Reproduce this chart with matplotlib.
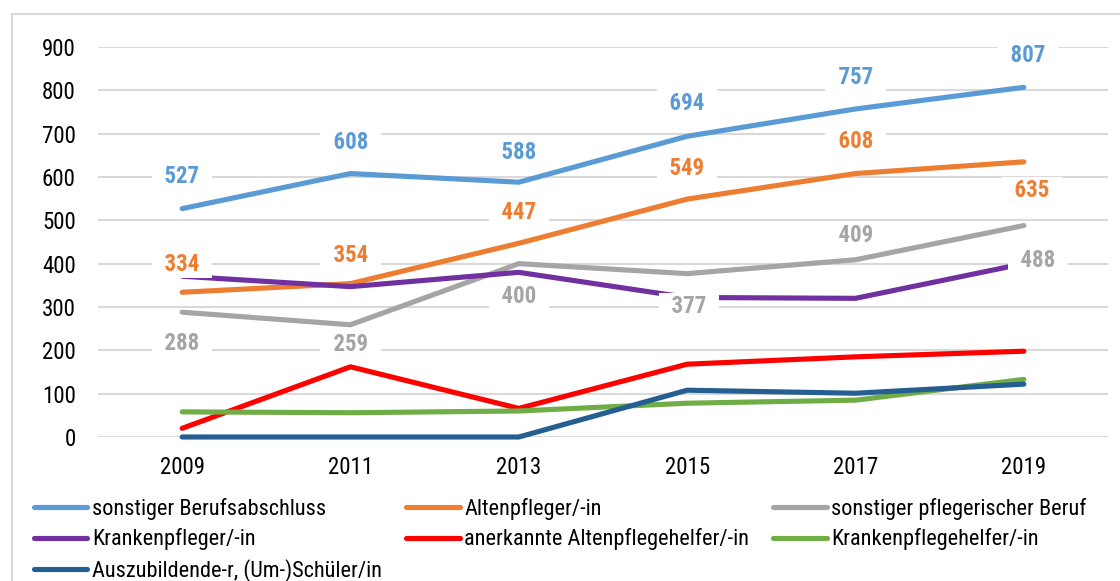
import matplotlib
matplotlib.use("Agg")
import matplotlib.pyplot as plt
from matplotlib.lines import Line2D

plt.rcParams['font.family'] = ['Roboto Condensed', 'DejaVu Sans']

years = ["2009", "2011", "2013", "2015", "2017", "2019"]
sonstiger_berufsabschluss = [527, 608, 588, 694, 757, 807]
altenpfleger = [334, 354, 447, 549, 608, 635]
sonstiger_pflegerischer = [288, 259, 400, 377, 409, 488]
krankenpfleger = [371, 347, 380, 322, 320, 400]
altenpflegehelfer = [20, 162, 66, 168, 185, 198]
krankenpflegehelfer = [58, 56, 60, 78, 85, 133]
auszubildende = [0, 0, 0, 108, 101, 122]

names = ["sonstiger Berufsabschluss", "Altenpfleger/-in", "sonstiger pflegerischer Beruf",
         "Krankenpfleger/-in", "anerkannte Altenpflegehelfer/-in", "Krankenpflegehelfer/-in",
         "Auszubildende-r, (Um-)Schüler/in"]
colors = ["#5B9BD5", "#ED7D31", "#A5A5A5", "#7030A0", "#FF0000", "#70AD47", "#255E91"]
series = [sonstiger_berufsabschluss, altenpfleger, sonstiger_pflegerischer, krankenpfleger,
          altenpflegehelfer, krankenpflegehelfer, auszubildende]

# label placement (pixel offsets of the value labels from their points; style only)
blue_dy = [32, 31, 30, 33, 31, 32]
orange_dy = [28, 28, 31, 31, 32, -29]
gray_dy = [-31, -20, -33, -33, 24, -35]
blue_dx = [0, 0, 0, 0, 0, 4]
orange_dx = [0, 0, 0, 0, 0, 8]
gray_dx = [0, 0, 0, 2, 0, 14]

W, H = 1120, 581
fig = plt.figure(figsize=(W / 100, H / 100), dpi=100)
ax = fig.add_axes([98 / W, 1 - 437 / H, (1108 - 98) / W, 390 / H])

x = list(range(len(years)))
lines = []
for vals, c, n in zip(series, colors, names):
    ln, = ax.plot(x, vals, color=c, lw=3.7, solid_capstyle='round', label=n,
                  clip_on=False, zorder=3)
    lines.append(ln)

ax.set_xlim(-0.5, len(years) - 0.5)
ax.set_ylim(0, 900)
ax.set_yticks(range(0, 901, 100))
ax.set_xticks(x)
ax.set_xticklabels(years)
ax.grid(axis='y', color='#D9D9D9', lw=1.5, zorder=0)
ax.set_axisbelow(True)
for s in ax.spines.values():
    s.set_visible(False)
ax.tick_params(length=0, labelsize=16.5, colors='black')
ax.tick_params(axis='y', pad=16)
ax.tick_params(axis='x', pad=14)

def add_labels(vals, dys, dxs, color):
    for i, v in enumerate(vals):
        ax.annotate(f"  {v}  ", (i, v), xytext=(dxs[i], dys[i]), textcoords='offset pixels',
                    ha='center', va='center', fontsize=16.5, fontweight='bold', color=color,
                    bbox=dict(boxstyle='square,pad=0.1', fc='white', ec='none'),
                    zorder=5, annotation_clip=False)

add_labels(sonstiger_berufsabschluss, blue_dy, blue_dx, colors[0])
add_labels(altenpfleger, orange_dy, orange_dx, colors[1])
add_labels(sonstiger_pflegerischer, gray_dy, gray_dx, colors[2])

order = [0, 3, 6, 1, 4, 2, 5]
leg = fig.legend([lines[i] for i in order], [names[i] for i in order], ncol=3,
                 loc='upper left', bbox_to_anchor=(34 / W, 1 - 498 / H), frameon=False,
                 fontsize=16, handlelength=2.4, handletextpad=0.2, labelspacing=0.38,
                 columnspacing=1.1, borderpad=0, borderaxespad=0)

# outer frame
fig.add_artist(Line2D([12 / W, 12 / W], [0, 1 - 14 / H], transform=fig.transFigure,
                      color='#D9D9D9', lw=1.5))
fig.add_artist(Line2D([12 / W, 1], [1 - 14 / H, 1 - 14 / H], transform=fig.transFigure,
                      color='#D9D9D9', lw=1.5))

fig.savefig("out.png", dpi=100)
